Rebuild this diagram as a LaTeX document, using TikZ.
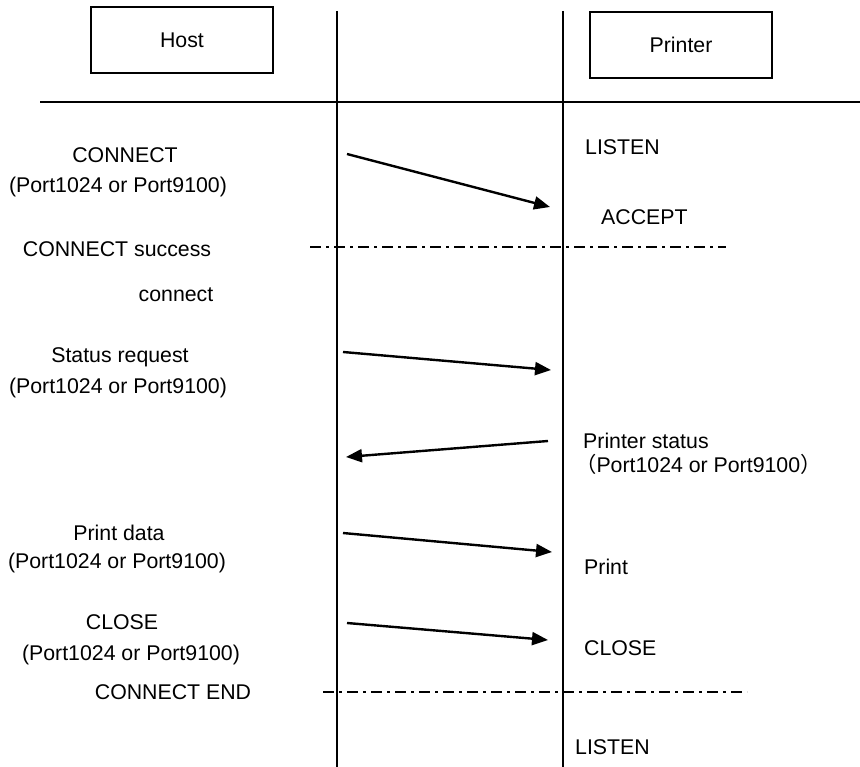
\documentclass[tikz,border=0pt]{standalone}
\usepackage{fontspec}
\setmainfont{Liberation Sans}
\newfontfamily\cjk{Noto Sans CJK SC}
\usetikzlibrary{arrows.meta}
\begin{document}
\begin{tikzpicture}[x=1pt,y=-1pt,
  lbl/.style={font=\fontsize{21.3}{25}\selectfont, inner sep=0pt},
  lblL/.style={lbl, anchor=west},
  actor/.style={draw, line width=2pt, minimum width=182pt, minimum height=66pt, font=\fontsize{21.3}{25}\selectfont},
  life/.style={line width=2pt},
  msg/.style={line width=2.4pt, -{Triangle[length=16pt,width=13pt]}},
  phase/.style={line width=2.2pt, dash pattern=on 11pt off 5pt on 3pt off 5pt}]
\useasboundingbox (0,0) rectangle (860,767);
% actors
\node[actor] (host) at (182,40) {Host};
\node[actor] (printer) at (681,45) {Printer};
% lifelines
\coordinate (hTop) at (337,11);
\coordinate (hBot) at (337,767);
\coordinate (pTop) at (563,11);
\coordinate (pBot) at (563,767);
\draw[life] (hTop) -- (hBot);
\draw[life] (pTop) -- (pBot);
% header rule
\coordinate (ruleL) at (40,102);
\coordinate (ruleR) at (860,102);
\draw[life] (ruleL) -- (ruleR);
% left labels
\node[lbl] (connect) at (125,155) {CONNECT};
\node[lbl] (connectPort) at (118,187) {(Port1024 or Port9100)};
\node[lbl] (success) at (117,249) {CONNECT success};
\node[lbl] (connectword) at (176,295) {connect};
\node[lbl] (statusreq) at (120,357) {Status request};
\node[lbl] (statusPort) at (118,388) {(Port1024 or Port9100)};
\node[lbl] (printdata) at (119,533) {Print data};
\node[lbl] (printPort) at (117,563) {(Port1024 or Port9100)};
\node[lbl] (closeL) at (122,622) {CLOSE};
\node[lbl] (closePort) at (131,655) {(Port1024 or Port9100)};
\node[lbl] (connend) at (173,692) {CONNECT END};
% right labels
\node[lblL] (listen1) at (585,147) {LISTEN};
\node[lblL] (accept) at (601,217) {ACCEPT};
\node[lblL] (pstatus) at (583,441) {Printer status};
\node[lblL] (pstatusPort) at (575,464) {{\cjk （}Port1024 or Port9100{\cjk ）}};
\node[lblL] (print) at (584,567) {Print};
\node[lblL] (closeR) at (584,648) {CLOSE};
\node[lblL] (listen2) at (575,747) {LISTEN};
% messages
\coordinate (m1s) at (347,154); \coordinate (m1e) at (550,207);
\coordinate (m2s) at (343,352); \coordinate (m2e) at (551,370);
\coordinate (m3s) at (548,441); \coordinate (m3e) at (346,457);
\coordinate (m4s) at (343,533); \coordinate (m4e) at (552,552);
\coordinate (m5s) at (347,623); \coordinate (m5e) at (548,640);
\draw[msg] (m1s) -- (m1e);
\draw[msg] (m2s) -- (m2e);
\draw[msg] (m3s) -- (m3e);
\draw[msg] (m4s) -- (m4e);
\draw[msg] (m5s) -- (m5e);
% phase separators
\coordinate (d1s) at (310,247); \coordinate (d1e) at (726,247);
\coordinate (d2s) at (323,692); \coordinate (d2e) at (747,692);
\draw[phase] (d1s) -- (d1e);
\draw[phase] (d2s) -- (d2e);
\end{tikzpicture}
\end{document}
